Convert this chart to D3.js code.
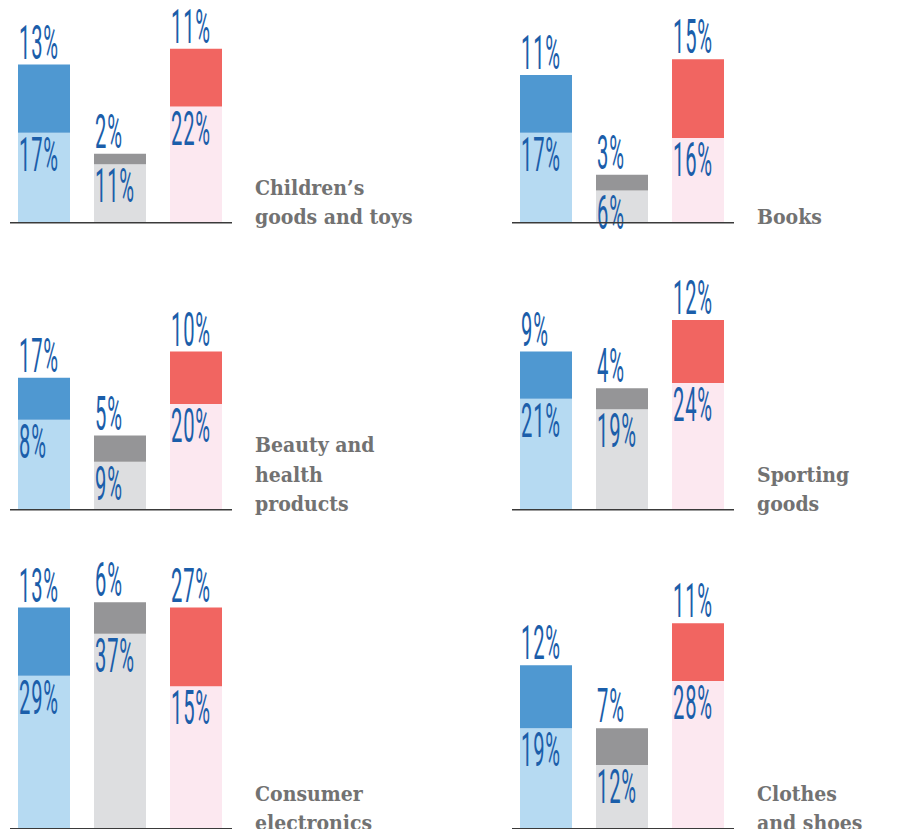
<!DOCTYPE html>
<html>
<head>
<meta charset="utf-8">
<script src="https://cdn.jsdelivr.net/npm/d3@7"></script>
<style>
  html, body { margin: 0; padding: 0; background: #ffffff; }
  svg { display: block; }
</style>
</head>
<body>
<div id="chart"></div>
<script>
// ---------- DATA ----------
const categories = ["Children’s goods and toys", "Books", "Beauty and health products", "Sporting goods", "Consumer electronics", "Clothes and shoes"];
const categoryLines = [["Children’s", "goods and toys"], ["Books"], ["Beauty and", "health", "products"], ["Sporting", "goods"], ["Consumer", "electronics"], ["Clothes", "and shoes"]];
const series = ["blue", "grey", "red"];

// drawn segment sizes (percentage points), as measured from the bars
const darkBlue  = [13, 11, 8, 9, 13, 12];
const lightBlue = [17, 17, 17, 21, 29, 19];
const darkGrey  = [2, 3, 5, 4, 6, 7];
const lightGrey = [11, 6, 9, 19, 37, 12];
const darkRed   = [11, 15, 10, 12, 15, 11];
const lightRed  = [22, 16, 20, 24, 27, 28];

// printed labels (as shown in the original; two bars' labels differ from their segments)
const darkBlueLabels  = [13, 11, 17, 9, 13, 12];
const lightBlueLabels = [17, 17, 8, 21, 29, 19];
const darkGreyLabels  = [2, 3, 5, 4, 6, 7];
const lightGreyLabels = [11, 6, 9, 19, 37, 12];
const darkRedLabels   = [11, 15, 10, 12, 27, 11];
const lightRedLabels  = [22, 16, 20, 24, 15, 28];

// ---------- STYLE / LAYOUT ----------
const W = 921, H = 829;
const darkColors  = { blue: "#4f98d1", grey: "#959597", red: "#f16561" };
const lightColors = { blue: "#b6daf2", grey: "#dddee0", red: "#fce8f0" };
const labelColor = "#1b5eaa";
const catColor = "#727272";
const colX = [0, 502];
const rowBase = [222, 509, 828];

const dark  = { blue: darkBlue, grey: darkGrey, red: darkRed };
const light = { blue: lightBlue, grey: lightGrey, red: lightRed };
const darkLab  = { blue: darkBlueLabels, grey: darkGreyLabels, red: darkRedLabels };
const lightLab = { blue: lightBlueLabels, grey: lightGreyLabels, red: lightRedLabels };

const svg = d3.select("#chart").append("svg").attr("width", W).attr("height", H);

const h = d3.scaleLinear().domain([0, 40]).range([0, 210]);
const x = d3.scaleBand().domain(series).range([18, 222]).paddingInner(24 / 76).paddingOuter(0);

const fontSize = 48, squeeze = 0.42;

function pctLabel(g, tx, ty, txt) {
  g.append("text")
    .attr("transform", `translate(${tx},${ty}) scale(${squeeze},1)`)
    .attr("font-family", "Roboto, 'Liberation Sans', sans-serif")
    .attr("font-weight", 400)
    .attr("font-size", fontSize)
    .attr("letter-spacing", 2)
    .attr("fill", labelColor)
    .text(txt);
}

categories.forEach((cat, i) => {
  const col = i % 2, row = Math.floor(i / 2);
  const g = svg.append("g").attr("transform", `translate(${colX[col]},${rowBase[row]})`);

  series.forEach(s => {
    const dv = dark[s][i], lv = light[s][i];
    const bx = x(s), bw = x.bandwidth();
    g.append("rect")
      .attr("x", bx).attr("width", bw)
      .attr("y", -h(lv)).attr("height", h(lv))
      .attr("fill", lightColors[s]);
    g.append("rect")
      .attr("x", bx).attr("width", bw)
      .attr("y", -h(lv + dv)).attr("height", h(dv))
      .attr("fill", darkColors[s]);

    pctLabel(g, bx + 1, -h(lv + dv) - 6, darkLab[s][i] + "%");
    pctLabel(g, bx + 1, -h(lv) + 38, lightLab[s][i] + "%");
  });

  g.append("line")
    .attr("x1", 10).attr("x2", 232)
    .attr("y1", 0.75).attr("y2", 0.75)
    .attr("stroke", "#3a3a3a").attr("stroke-width", 1.6);

  const lines = categoryLines[i];
  const t = g.append("text")
    .attr("font-family", "'DejaVu Serif Condensed', 'DejaVu Serif', serif")
    .attr("font-weight", "bold")
    .attr("font-size", 21)
    .attr("fill", catColor);
  lines.forEach((ln, k) => {
    t.append("tspan")
      .attr("x", 255)
      .attr("y", 2 - (lines.length - 1 - k) * 29.5)
      .text(ln);
  });
});
</script>
</body>
</html>
